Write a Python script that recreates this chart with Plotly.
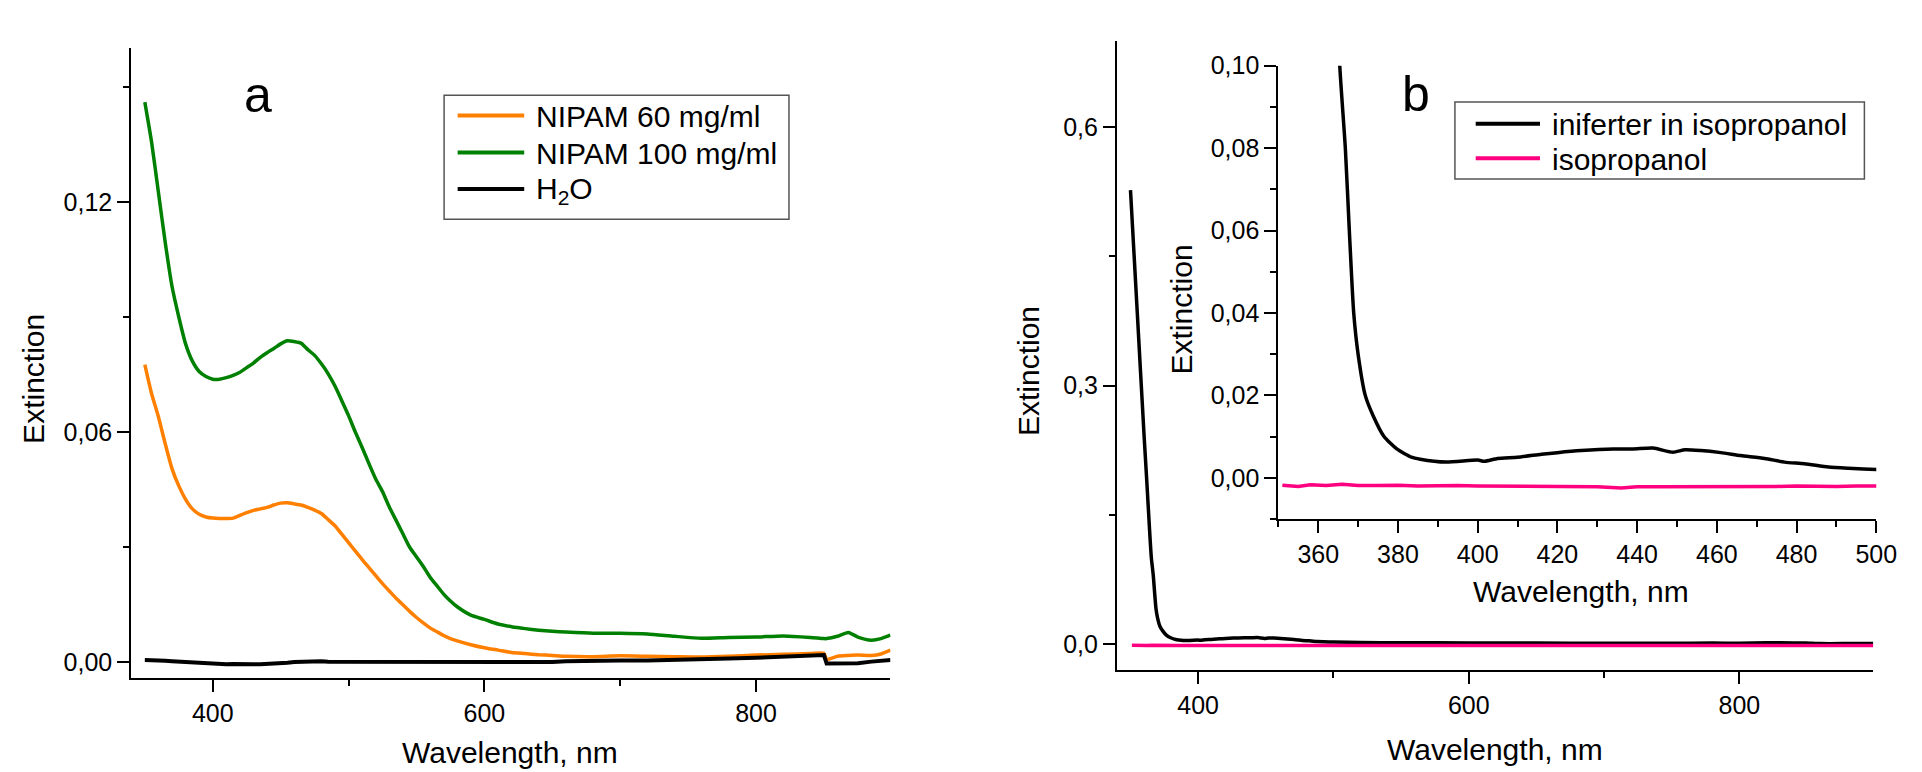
import plotly.graph_objects as go

W, H = 1922, 772
FONT = "Liberation Sans, Arial, sans-serif"

# ---------------- Panel a data ----------------
wl_a = [350, 355, 360, 365, 370, 375, 380, 385, 390, 395, 400, 405, 410, 415, 420,
        425, 430, 435, 440, 445, 450, 455, 460, 465, 470, 475, 480, 485, 490, 495,
        500, 505, 510, 515, 520, 525, 530, 535, 540, 545, 550, 555, 560, 565, 570,
        575, 580, 590, 600, 610, 620, 630, 640, 650, 660, 680, 700, 720, 740, 760,
        780, 800, 820, 840, 850, 852, 860, 868, 875, 885, 892, 899]

nipam60 = [0.0776, 0.0700, 0.0640, 0.0570, 0.0505, 0.0460, 0.0425, 0.0400, 0.0386, 0.0379,
           0.0376, 0.0375, 0.0375, 0.0376, 0.0383, 0.0390, 0.0396, 0.0400, 0.0404, 0.0410,
           0.0415, 0.0416, 0.0413, 0.0410, 0.0404, 0.0397, 0.0388, 0.0372, 0.0356, 0.0334,
           0.0312, 0.0290, 0.0268, 0.0247, 0.0226, 0.0205, 0.0186, 0.0167, 0.0150, 0.0133,
           0.0117, 0.0103, 0.0090, 0.0080, 0.0070, 0.0062, 0.0056, 0.0046, 0.0038, 0.0032,
           0.0026, 0.0023, 0.0020, 0.0018, 0.0016, 0.0015, 0.0017, 0.0016, 0.0015, 0.0014,
           0.0016, 0.0019, 0.0021, 0.0023, 0.0024, 0.0008, 0.0016, 0.0018, 0.0019, 0.0018,
           0.0022, 0.0032]

nipam100 = [0.1460, 0.1355, 0.1225, 0.1095, 0.0980, 0.0900, 0.0830, 0.0785, 0.0758, 0.0745,
            0.0738, 0.0738, 0.0742, 0.0748, 0.0756, 0.0768, 0.0780, 0.0795, 0.0807, 0.0818,
            0.0830, 0.0838, 0.0836, 0.0832, 0.0815, 0.0800, 0.0778, 0.0752, 0.0720, 0.0682,
            0.0643, 0.0600, 0.0560, 0.0518, 0.0478, 0.0445, 0.0405, 0.0370, 0.0335, 0.0300,
            0.0275, 0.0250, 0.0222, 0.0200, 0.0178, 0.0160, 0.0145, 0.0123, 0.0112, 0.0100,
            0.0093, 0.0088, 0.0084, 0.0081, 0.0079, 0.0076, 0.0076, 0.0074, 0.0068, 0.0063,
            0.0065, 0.0066, 0.0069, 0.0065, 0.0062, 0.0062, 0.0068, 0.0078, 0.0066, 0.0058,
            0.0062, 0.0071]

water = [0.0006, 0.0006, 0.0005, 0.0004, 0.0003, 0.0002, 0.0000, -0.0001, -0.0002, -0.0003,
         -0.0004, -0.0004, -0.0005, -0.0004, -0.0005, -0.0004, -0.0005, -0.0005, -0.0004, -0.0005,
         -0.0004, -0.0001, 0.0001, 0.0002, 0.0003, 0.0003, 0.0003, 0.0002, 0.0002, 0.0002,
         0.0002, 0.0001, 0.0001, 0.0000, 0.0001, 0.0000, 0.0000, 0.0000, 0.0000, 0.0001,
         0.0000, 0.0000, 0.0000, 0.0000, 0.0001, 0.0000, 0.0000, 0.0000, 0.0000, 0.0000,
         0.0001, 0.0000, 0.0001, 0.0001, 0.0003, 0.0005, 0.0005, 0.0005, 0.0006, 0.0008,
         0.0010, 0.0012, 0.0014, 0.0017, 0.0019, -0.0003, -0.0003, -0.0002, -0.0002, 0.0002,
         0.0004, 0.0006]

# ---------------- Panel b data ----------------
wl_inif = [350, 355, 360, 362, 364, 365.4, 366.8, 367.8, 368.9, 370, 371.8, 373.8, 376.5,
           379.7, 383.4, 385.6, 392, 400, 401.7, 405, 410, 416, 420, 426, 434, 439, 444,
           449, 452, 456, 461, 466, 472, 477, 482, 488, 493, 500, 520, 550, 600, 650, 700,
           750, 780, 800, 820, 840, 849, 860, 880, 899]
iniferter = [0.527, 0.385, 0.243, 0.190, 0.135, 0.100, 0.080, 0.060, 0.040, 0.030, 0.020,
             0.015, 0.010, 0.007, 0.0050, 0.0045, 0.0038, 0.0043, 0.0040, 0.0047, 0.0050,
             0.0057, 0.0061, 0.0066, 0.0070, 0.0070, 0.0072, 0.0062, 0.0068, 0.0066, 0.0061,
             0.0054, 0.0047, 0.0038, 0.0034, 0.0026, 0.0023, 0.0020, 0.0015, 0.0012, 0.0010,
             0.0008, 0.0006, 0.0005, 0.0008, 0.0007, 0.0011, 0.0010, 0.0010, 0.0002, 0.0002,
             0.0003]

wl_iso = [351, 355, 358, 362, 366, 370, 375, 380, 385, 390, 395, 400, 405, 410, 415, 420,
          425, 430, 436, 440, 445, 450, 455, 460, 465, 470, 475, 480, 485, 490, 495, 500,
          550, 600, 650, 700, 750, 800, 850, 899]
isopropanol = [-0.0018, -0.0021, -0.0017, -0.0019, -0.0016, -0.0019, -0.0019, -0.0018,
               -0.0020, -0.0019, -0.0019, -0.0020, -0.0020, -0.0022, -0.0021, -0.0021,
               -0.0022, -0.0022, -0.0025, -0.0022, -0.0022, -0.0022, -0.0023, -0.0023,
               -0.0022, -0.0022, -0.0021, -0.0020, -0.0021, -0.0021, -0.0020, -0.0020,
               -0.0019, -0.0020, -0.0019, -0.0020, -0.0019, -0.0018, -0.0019, -0.0019]

# ---------------- helpers ----------------
def px(x):
    return x / W


def py(y):
    return 1 - y / H


def axis(**kw):
    base = dict(showline=True, linecolor="black", linewidth=2, ticks="outside",
                ticklen=12, tickwidth=2, tickcolor="black", showgrid=False,
                zeroline=False, fixedrange=True,
                tickfont=dict(family=FONT, size=25, color="black"))
    base.update(kw)
    return base


def minor(dtick):
    return dict(ticks="outside", ticklen=6, tickwidth=2, tickcolor="black",
                dtick=dtick, tick0=0, showgrid=False)


def ln(color, width, smooth=True):
    if smooth:
        return dict(color=color, width=width, shape="spline", smoothing=0.6)
    return dict(color=color, width=width)


fig = go.Figure()

# Panel a traces
fig.add_trace(go.Scatter(x=wl_a, y=nipam60, mode="lines", name="NIPAM 60 mg/ml",
                         line=ln("#FF8000", 3.5), xaxis="x", yaxis="y"))
fig.add_trace(go.Scatter(x=wl_a, y=nipam100, mode="lines", name="NIPAM 100 mg/ml",
                         line=ln("#008000", 3.5), xaxis="x", yaxis="y"))
fig.add_trace(go.Scatter(x=wl_a, y=water, mode="lines", name="H2O",
                         line=ln("black", 4, False), xaxis="x", yaxis="y"))

# Panel b main traces
fig.add_trace(go.Scatter(x=wl_inif, y=iniferter, mode="lines", name="iniferter in isopropanol",
                         line=ln("black", 3.5), xaxis="x2", yaxis="y2"))
fig.add_trace(go.Scatter(x=wl_iso, y=isopropanol, mode="lines", name="isopropanol",
                         line=ln("#FF0080", 3.5, False), xaxis="x2", yaxis="y2"))

# Panel b inset traces
fig.add_trace(go.Scatter(x=wl_inif, y=iniferter, mode="lines", name="iniferter in isopropanol",
                         line=ln("black", 3.5), xaxis="x3", yaxis="y3"))
fig.add_trace(go.Scatter(x=wl_iso, y=isopropanol, mode="lines", name="isopropanol",
                         line=ln("#FF0080", 3.5, False), xaxis="x3", yaxis="y3"))

fig.update_layout(
    width=W, height=H, autosize=False,
    margin=dict(l=0, r=0, t=0, b=0, pad=0),
    paper_bgcolor="white", plot_bgcolor="rgba(0,0,0,0)",
    showlegend=False, separators=",.",
    font=dict(family=FONT, color="black"),
    xaxis=axis(domain=[px(132.7), px(900.3)], range=[340, 899], anchor="y",
               tick0=0, dtick=200, minor=minor(100)),
    yaxis=axis(domain=[py(676), py(35)], range=[-0.004, 0.16], anchor="x",
               tick0=0, dtick=0.06, tickformat=".2f", minor=minor(0.03)),
    xaxis2=axis(domain=[px(1129.3), px(1894)], range=[340, 899], anchor="y2",
                tick0=0, dtick=200, minor=minor(100)),
    yaxis2=axis(domain=[py(667.7), py(27.7)], range=[-0.03, 0.7], anchor="x2",
                tick0=0, dtick=0.3, tickformat=".1f", minor=minor(0.15)),
    xaxis3=axis(domain=[px(1292.5), px(1897)], range=[350, 500], anchor="y3",
                tick0=0, dtick=20, minor=minor(10)),
    yaxis3=axis(domain=[py(514.3), py(52.7)], range=[-0.01, 0.10], anchor="x3",
                tick0=0, dtick=0.02, tickformat=".2f", minor=minor(0.01)),
)

ann = []


def text(x, y, s, size=30, angle=0, xanchor="center"):
    ann.append(dict(x=px(x), y=py(y), xref="paper", yref="paper", text=s,
                    showarrow=False, textangle=angle, xanchor=xanchor, yanchor="middle",
                    font=dict(family=FONT, size=size, color="black")))


# axis titles
text(34, 372, "Extinction", angle=-90)
text(516, 752, "Wavelength, nm")
text(1040, 364, "Extinction", angle=-90)
text(1512, 749, "Wavelength, nm")
text(1195, 301, "Extinction", angle=-90)
text(1598, 588, "Wavelength, nm")

# panel letters
text(261, 83, "a", size=50)
text(1432, 81, "b", size=50)

shapes = []

# legend a
shapes.append(dict(type="rect", xref="paper", yref="paper", x0=px(449), x1=px(797.7),
                   y0=py(209), y1=py(82.7), line=dict(color="#555555", width=1.5)))
leg_a = [("NIPAM 60 mg/ml", "#FF8000", 103.5),
         ("NIPAM 100 mg/ml", "#008000", 141),
         ("H<sub>2</sub>O", "black", 178.3)]
for label, col, yy in leg_a:
    shapes.append(dict(type="line", xref="paper", yref="paper", x0=px(462.7), x1=px(530),
                       y0=py(yy), y1=py(yy), line=dict(color=col, width=4)))
    text(540, yy + 1, label, xanchor="left")

# legend b
shapes.append(dict(type="rect", xref="paper", yref="paper", x0=px(1471), x1=px(1885),
                   y0=py(168), y1=py(89.7), line=dict(color="#555555", width=1.5)))
leg_b = [("iniferter in isopropanol", "black", 111.8),
         ("isopropanol", "#FF0080", 147)]
for label, col, yy in leg_b:
    shapes.append(dict(type="line", xref="paper", yref="paper", x0=px(1492), x1=px(1557),
                       y0=py(yy), y1=py(yy), line=dict(color=col, width=4)))
    text(1567, yy + 1, label, xanchor="left")

fig.update_layout(annotations=ann, shapes=shapes)

fig.write_html("out.html", config={"displayModeBar": False},
               post_script="document.body.style.margin='0px';")
